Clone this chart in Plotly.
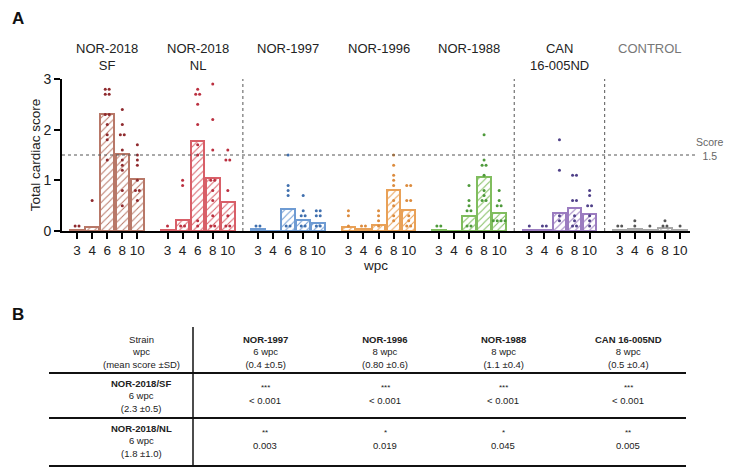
import plotly.graph_objects as go

# the page body keeps an 8px margin, so the figure is drawn 8px in from the corner
OX, OY = 8, 8
W, H = 725, 464

# ---------------------------------------------------------------- data (A)
strains = ["NOR-2018<br>SF", "NOR-2018<br>NL", "NOR-1997", "NOR-1996",
           "NOR-1988", "CAN<br>16-005ND", "CONTROL"]
wpc = ["3", "4", "6", "8", "10"]

# mean total cardiac score per wpc
mean_sf = [0.02, 0.07, 2.30, 1.52, 1.02]
mean_nl = [0.02, 0.21, 1.78, 1.05, 0.57]
mean_1997 = [0.03, 0.0, 0.43, 0.22, 0.16]
mean_1996 = [0.08, 0.03, 0.12, 0.80, 0.41]
mean_1988 = [0.02, 0.0, 0.30, 1.07, 0.36]
mean_can = [0.01, 0.02, 0.35, 0.45, 0.34]
mean_ctrl = [0.02, 0.03, 0.01, 0.05, 0.01]

# individual fish scores (zeros hidden under the axis are left out)
dots_sf = [[0.1, 0.1], [0.6],
           [2.8, 2.8, 2.7, 2.7, 2.3, 2.3, 2.1, 1.9, 1.8, 1.4],
           [2.4, 2.1, 1.9, 1.9, 1.6, 1.4, 1.3, 1.2, 0.8, 0.5],
           [1.7, 1.5, 1.4, 1.3, 1.0, 0.8, 0.8, 0.6]]
dots_nl = [[0.1], [1.0, 0.9, 0.1, 0.1],
           [2.8, 2.7, 2.7, 2.5, 2.1, 1.7, 1.5, 0.2, 0.1],
           [2.9, 2.2, 1.6, 1.0, 1.0, 0.8, 0.6, 0.3, 0.1, 0.1],
           [1.6, 1.4, 1.4, 0.8, 0.3, 0.1, 0.1]]
dots_1997 = [[0.1, 0.1], [],
             [1.5, 0.9, 0.8, 0.7, 0.1, 0.1],
             [0.7, 0.4, 0.3, 0.3, 0.1, 0.1],
             [0.4, 0.4, 0.3, 0.3, 0.1, 0.1]]
dots_1996 = [[0.4, 0.3, 0.1], [0.1, 0.1],
             [0.4, 0.3, 0.2, 0.1],
             [1.5, 1.3, 1.1, 1.0, 0.9, 0.6, 0.5, 0.3, 0.2],
             [0.9, 0.9, 0.6, 0.6, 0.3, 0.2, 0.1, 0.1]]
dots_1988 = [[0.1, 0.1], [],
             [0.9, 0.6, 0.5, 0.4, 0.4, 0.1, 0.1],
             [1.9, 1.4, 1.3, 1.3, 1.1, 0.8, 0.7, 0.6, 0.6],
             [0.8, 0.6, 0.5, 0.5, 0.2, 0.2, 0.2, 0.2]]
dots_can = [[0.1], [0.1, 0.1],
            [1.8, 1.2, 0.3, 0.2],
            [1.1, 1.1, 0.6, 0.6, 0.3, 0.2, 0.1, 0.1],
            [0.8, 0.7, 0.5, 0.5, 0.3, 0.2, 0.1]]
dots_ctrl = [[0.1, 0.1], [0.2, 0.1], [0.1], [0.2, 0.1, 0.1], [0.1]]

means = [mean_sf, mean_nl, mean_1997, mean_1996, mean_1988, mean_can, mean_ctrl]
dots = [dots_sf, dots_nl, dots_1997, dots_1996, dots_1988, dots_can, dots_ctrl]

threshold = 1.5

# ---------------------------------------------------------------- data (B)
tbl_head = ["Strain<br>wpc<br>(mean score ±SD)",
            "<b>NOR-1997</b><br>6 wpc<br>(0.4 ±0.5)",
            "<b>NOR-1996</b><br>8 wpc<br>(0.80 ±0.6)",
            "<b>NOR-1988</b><br>8 wpc<br>(1.1 ±0.4)",
            "<b>CAN 16-005ND</b><br>8 wpc<br>(0.5 ±0.4)"]
tbl_rows = ["<b>NOR-2018/SF</b><br>6 wpc<br>(2.3 ±0.5)",
            "<b>NOR-2018/NL</b><br>6 wpc<br>(1.8 ±1.0)"]
tbl_stars = [["***", "***", "***", "***"], ["**", "*", "*", "**"]]
tbl_p = [["< 0.001", "< 0.001", "< 0.001", "< 0.001"],
         ["0.003", "0.019", "0.045", "0.005"]]

# ---------------------------------------------------------------- styles
bar_col = ["#b87868", "#d85f68", "#6e9bd3", "#e9a157", "#80bd5e", "#9b7cc0", "#a8a8a8"]
dot_col = ["#8f2a2e", "#bb3040", "#3f6fae", "#dc8b3d", "#4e9a3b", "#4f4088", "#555555"]
FONT = "Liberation Sans, Arial, sans-serif"
INK = "#222222"


def px(x):
    """page pixel -> paper x"""
    return (x - OX) / W


def py(y):
    """page pixel -> paper y"""
    return 1 - (y - OY) / H


GAP = 6  # slots per strain group (5 bars + 1 empty)

fig = go.Figure()
tickvals, ticktext = [], []
for g, (m, d) in enumerate(zip(means, dots)):
    xs = [g * GAP + i for i in range(len(wpc))]
    tickvals += xs
    ticktext += wpc
    fig.add_trace(go.Bar(
        x=xs, y=m, width=0.9,
        marker=dict(color="white", line=dict(color=bar_col[g], width=2),
                    pattern=dict(shape="/", fgcolor=bar_col[g], bgcolor="white",
                                 fillmode="replace", size=5, solidity=0.2)),
        showlegend=False, hoverinfo="skip"))
    # scatter the individual scores, side by side when values repeat
    dx, dy = [], []
    for i, vals in enumerate(d):
        for v in sorted(set(vals)):
            n = vals.count(v)
            for k in range(n):
                dx.append(xs[i] + (k - (n - 1) / 2) * 0.26)
                dy.append(v)
    fig.add_trace(go.Scatter(
        x=dx, y=dy, mode="markers", cliponaxis=False,
        marker=dict(color=dot_col[g], size=3, symbol="circle"),
        showlegend=False, hoverinfo="skip"))

# group titles
for g, name in enumerate(strains):
    fig.add_annotation(x=g * GAP + 2, xref="x", y=py(39), yref="paper",
                       text=name, showarrow=False, xanchor="center", yanchor="top",
                       font=dict(size=13, color="#777777" if name == "CONTROL" else INK,
                                 family=FONT))

# dividers between strain groups
for xv in [1 * GAP + 5, 4 * GAP + 5, 5 * GAP + 5]:
    fig.add_shape(type="line", xref="x", yref="y", x0=xv, x1=xv, y0=0, y1=3.02,
                  line=dict(color="#555555", width=1, dash="dot"))
fig.add_shape(type="line", xref="paper", yref="y", x0=px(62), x1=px(695),
              y0=threshold, y1=threshold,
              line=dict(color="#555555", width=1, dash="dot"))
fig.add_annotation(x=px(710), xref="paper", y=py(149), yref="paper",
                   text="Score<br>1.5", showarrow=False, xanchor="center",
                   yanchor="middle", align="center",
                   font=dict(size=10.5, color="#666666", family=FONT))

fig.update_xaxes(domain=[px(62), px(690)], range=[-1.0, 40.66], automargin=False,
                 tickvals=tickvals, ticktext=ticktext, ticks="outside",
                 ticklen=6, tickwidth=2, tickcolor="black",
                 showline=True, linecolor="black", linewidth=2,
                 showgrid=False, zeroline=False,
                 tickfont=dict(size=13.5, color=INK, family=FONT),
                 title=dict(text="wpc", font=dict(size=13.5, color=INK, family=FONT),
                            standoff=3))
fig.update_yaxes(domain=[py(231), py(79)], range=[0, 3], automargin=False,
                 tickvals=[0, 1, 2, 3], ticks="outside", ticklen=6, tickwidth=2,
                 tickcolor="black", showline=True, linecolor="black", linewidth=2,
                 showgrid=False, zeroline=False,
                 tickfont=dict(size=14, color=INK, family=FONT),
                 title=dict(text="Total cardiac score",
                            font=dict(size=13.5, color=INK, family=FONT),
                            standoff=0))

# panel letters
for letter, y in [("A", 18), ("B", 314)]:
    fig.add_annotation(x=px(10), xref="paper", y=py(y), yref="paper",
                       text="<b>%s</b>" % letter, showarrow=False,
                       xanchor="left", yanchor="middle",
                       font=dict(size=17, color="#111111", family=FONT))

# ---------------------------------------------------------------- table (B)
col_x = [141, 265, 385, 503, 628]
TF = dict(size=9.5, color=INK, family=FONT)


def cell(x, y, text, font=TF):
    fig.add_annotation(x=px(x), y=py(y), xref="paper", yref="paper", text=text,
                       showarrow=False, xanchor="center", yanchor="middle",
                       align="center", font=font)


for c, txt in enumerate(tbl_head):
    cell(col_x[c], 352, txt)
for r, txt in enumerate(tbl_rows):
    yc = 396 + r * 45
    cell(col_x[0], yc, txt)
    for c in range(4):
        cell(col_x[c + 1], yc - 9, tbl_stars[r][c], dict(size=8, color=INK, family=FONT))
        cell(col_x[c + 1], yc + 4, tbl_p[r][c])

for yl in [373, 418, 466]:
    fig.add_shape(type="line", xref="paper", yref="paper", x0=px(49), x1=px(686),
                  y0=py(yl), y1=py(yl), line=dict(color="#111111", width=2))
fig.add_shape(type="line", xref="paper", yref="paper", x0=px(193), x1=px(193),
              y0=py(327), y1=py(466), line=dict(color="#111111", width=1.5))

fig.update_layout(width=W, height=H, margin=dict(l=0, r=0, t=0, b=0),
                  plot_bgcolor="white", paper_bgcolor="white",
                  barmode="overlay", bargap=0)

fig.write_html("out.html")
